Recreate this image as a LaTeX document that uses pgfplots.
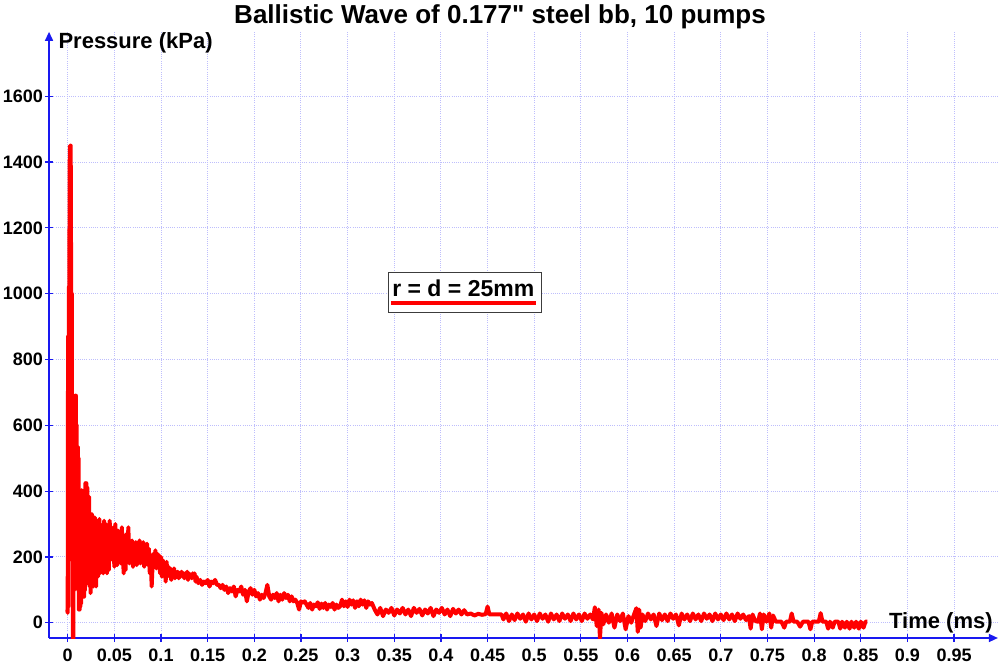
\documentclass[border=0pt]{standalone}
\usepackage{fontspec}
\setmainfont{Liberation Sans}
\newfontfamily\plainfont{Liberation Sans}
\usepackage{pgfplots}
\pgfplotsset{compat=1.18}
\usetikzlibrary{arrows.meta}
\definecolor{gridc}{RGB}{190,190,252}
\definecolor{axblue}{RGB}{25,25,240}
\definecolor{boxc}{RGB}{60,60,60}
\begin{document}
\begin{tikzpicture}
\useasboundingbox (0,0) rectangle (1000pt,667pt);
\node[anchor=base, font=\fontsize{26}{30}\plainfont\bfseries, inner sep=0pt] at (500pt,643pt) {Ballistic Wave of 0.177" steel bb, 10 pumps};
\begin{axis}[
  at={(67.7pt,44.3pt)}, anchor=origin,
  x=933pt, y=0.329pt,
  xmin=-0.02, xmax=0.997, ymin=-46.5, ymax=1796,
  axis lines=left,
  axis line style={axblue, line width=1.4pt, -{Triangle[length=9pt,width=8pt]}},
  tick align=center, major tick length=8pt,
  tick style={axblue, line width=1.2pt},
  xtick={0,0.05,0.1,0.15,0.2,0.25,0.3,0.35,0.4,0.45,0.5,0.55,0.6,0.65,0.7,0.75,0.8,0.85,0.9,0.95},
  ytick={0,200,400,600,800,1000,1200,1400,1600},
  scaled x ticks=false, scaled y ticks=false,
  /pgf/number format/assume math mode=true,
  xticklabel style={/pgf/number format/fixed, /pgf/number format/precision=2, font=\fontsize{18}{20}\selectfont\bfseries, inner sep=0pt, anchor=base, yshift=-19pt},
  yticklabel style={/pgf/number format/set thousands separator={}, font=\fontsize{18}{20}\selectfont\bfseries, inner sep=0pt, anchor=east, xshift=-2pt},
  grid=major,
  major grid style={gridc, dash pattern=on 1pt off 1.2pt, line width=1pt},
  xlabel={Time (ms)},
  x label style={at={(axis description cs:0.9947,0.0165)}, anchor=base east, inner sep=0pt, font=\fontsize{22}{26}\selectfont\bfseries},
  ylabel={Pressure (kPa)},
  y label style={at={(axis description cs:0.0098,0.973)}, rotate=-90, anchor=base west, inner sep=0pt, font=\fontsize{22}{26}\selectfont\bfseries},
]
\addplot[red, line width=4pt, line join=round] coordinates {
(-0.0005,40) (0.0000,30) (0.0004,870) (0.0008,50) (0.0012,1020) (0.0016,400) (0.0020,1370) (0.0024,1450) (0.0028,1450) (0.0032,1450)
(0.0036,1100) (0.0040,700) (0.0044,1000) (0.0048,200) (0.0052,500) (0.0056,-50) (0.0060,-50) (0.0064,300) (0.0068,100) (0.0072,640)
(0.0076,150) (0.0080,690) (0.0084,690) (0.0088,690) (0.0092,250) (0.0096,600) (0.0100,150) (0.0104,530) (0.0108,535) (0.0112,100)
(0.0116,500) (0.0120,40) (0.0124,350) (0.0128,40) (0.0132,300) (0.0136,50) (0.0140,400) (0.0145,60) (0.0150,403) (0.0155,200)
(0.0160,380) (0.0165,79) (0.0170,400) (0.0175,79) (0.0180,350) (0.0185,100) (0.0190,424) (0.0195,150) (0.0200,424) (0.0205,120)
(0.0210,410) (0.0215,130) (0.0220,383) (0.0225,150) (0.0230,383) (0.0235,110) (0.0240,330) (0.0245,90) (0.0250,318) (0.0255,110)
(0.0260,330) (0.0265,140) (0.0270,320) (0.0275,110) (0.0280,300) (0.0285,150) (0.0290,320) (0.0295,120) (0.0300,310) (0.0305,110)
(0.0310,290) (0.0315,160) (0.0320,310) (0.0325,140) (0.0330,300) (0.0335,180) (0.0340,315) (0.0345,150) (0.0350,300)
(0.036,160) (0.037,290) (0.038,150) (0.039,310) (0.040,200) (0.041,300) (0.042,150) (0.043,250) (0.044,160) (0.045,310)
(0.046,210) (0.047,290) (0.048,190) (0.049,260) (0.050,170) (0.051,300) (0.052,230) (0.053,175) (0.054,280) (0.055,200)
(0.056,260) (0.057,180) (0.058,290) (0.059,220) (0.060,150) (0.061,250) (0.062,160) (0.063,270) (0.064,200) (0.065,290)
(0.066,180) (0.067,240) (0.068,190) (0.069,250) (0.070,170) (0.071,230) (0.072,200) (0.073,245) (0.074,175) (0.075,230)
(0.076,210) (0.077,250) (0.078,180) (0.079,235) (0.080,190) (0.081,245) (0.082,170) (0.083,220) (0.084,200) (0.085,240)
(0.086,175) (0.087,225) (0.088,150) (0.089,200) (0.090,110) (0.091,180) (0.092,210) (0.093,170) (0.094,220) (0.095,165)
(0.096,210) (0.097,180) (0.098,205) (0.099,150) (0.100,200) (0.101,140) (0.102,190) (0.103,150) (0.104,180) (0.105,125)
(0.106,185) (0.107,140) (0.108,170) (0.109,145) (0.110,165) (0.111,130) (0.112,160) (0.113,140) (0.114,165) (0.115,135)
(0.116,155) (0.117,140) (0.118,155) (0.119,135) (0.120,150) (0.121,140) (0.122,155) (0.123,145) (0.124,150) (0.125,135)
(0.126,150) (0.127,140) (0.128,155) (0.129,130) (0.130,150) (0.131,140) (0.132,145) (0.133,135) (0.134,150) (0.135,140)
(0.136,150) (0.137,125) (0.138,140) (0.140,120) (0.142,130) (0.144,115) (0.146,125) (0.148,120) (0.150,130) (0.152,110)
(0.154,125) (0.156,120) (0.158,130) (0.160,115) (0.162,115) (0.164,105) (0.166,115) (0.168,100) (0.170,110) (0.172,90)
(0.174,105) (0.176,95) (0.178,110) (0.180,80) (0.182,100) (0.184,95) (0.186,110) (0.188,85) (0.190,100) (0.192,65)
(0.194,95) (0.196,105) (0.198,85) (0.200,100) (0.202,80) (0.204,90) (0.206,70) (0.208,85) (0.210,75) (0.212,90)
(0.214,115) (0.216,80) (0.218,70) (0.220,85) (0.222,75) (0.224,90) (0.226,65) (0.228,85) (0.230,70) (0.232,90)
(0.234,75) (0.236,85) (0.238,65) (0.240,80) (0.242,65) (0.244,70) (0.246,60) (0.248,40) (0.250,65) (0.252,60)
(0.254,65) (0.256,55) (0.258,45) (0.260,60) (0.262,40) (0.264,55) (0.266,50) (0.268,62) (0.270,42) (0.272,58)
(0.274,45) (0.276,60) (0.278,40) (0.280,55) (0.282,48) (0.284,60) (0.286,40) (0.288,55) (0.290,45) (0.292,50)
(0.294,70) (0.296,50) (0.298,65) (0.300,48) (0.302,70) (0.304,55) (0.306,68) (0.308,45) (0.310,65) (0.312,50)
(0.314,70) (0.316,55) (0.318,68) (0.320,45) (0.322,65) (0.324,55) (0.326,60)
(0.329,40) (0.332,25) (0.335,45) (0.338,20) (0.341,40) (0.344,30) (0.347,45) (0.350,22) (0.353,40) (0.356,28)
(0.359,45) (0.362,25) (0.365,40) (0.368,20) (0.371,45) (0.374,30) (0.377,42) (0.380,22) (0.383,40) (0.386,28)
(0.389,45) (0.392,20) (0.395,40) (0.398,30) (0.401,45) (0.404,25) (0.407,40) (0.410,20) (0.413,42) (0.416,28)
(0.419,40) (0.422,25) (0.425,38) (0.428,25) (0.432,28) (0.436,22) (0.440,27) (0.444,24) (0.448,26) (0.450,49)
(0.452,25) (0.458,25) (0.465,25)
(0.467,10) (0.470,28) (0.473,5) (0.476,25) (0.479,8) (0.482,28) (0.485,12) (0.488,25) (0.491,3) (0.494,28)
(0.497,10) (0.500,25) (0.503,5) (0.506,28) (0.509,12) (0.512,25) (0.515,3) (0.518,28) (0.521,10) (0.524,25)
(0.527,5) (0.530,28) (0.533,12) (0.536,25) (0.539,5) (0.542,28) (0.545,10) (0.548,25) (0.551,5) (0.554,28)
(0.557,12) (0.560,25) (0.563,10) (0.565,47) (0.567,-10) (0.569,40) (0.5705,-47) (0.572,30) (0.574,-5)
(0.577,25) (0.580,0) (0.583,28) (0.586,-15) (0.589,25) (0.592,5) (0.595,28) (0.598,-20) (0.601,20) (0.604,0)
(0.607,25) (0.6095,44) (0.611,-28) (0.6125,40) (0.614,-15) (0.616,25)
(0.619,5) (0.622,28) (0.625,10) (0.628,25) (0.631,-10) (0.634,28) (0.637,8) (0.640,25) (0.643,5) (0.646,28)
(0.649,12) (0.652,25) (0.655,-8) (0.658,28) (0.661,10) (0.664,25) (0.667,5) (0.670,28) (0.673,10) (0.676,25)
(0.679,5) (0.682,28) (0.685,12) (0.688,25) (0.691,5) (0.694,28) (0.697,10) (0.700,25) (0.703,8) (0.706,28)
(0.709,10) (0.712,25) (0.715,5) (0.718,28) (0.721,12) (0.724,25) (0.727,8)
(0.730,20) (0.732,-18) (0.734,25) (0.737,5) (0.740,3) (0.742,28) (0.744,-20) (0.746,25) (0.749,3) (0.752,28)
(0.754,-15) (0.756,22) (0.759,3)
(0.765,3) (0.768,-15) (0.770,3) (0.774,3) (0.776,28) (0.778,3) (0.782,3) (0.785,-12) (0.788,3) (0.794,3)
(0.796,-20) (0.798,3) (0.805,3) (0.807,29) (0.809,3) (0.813,3) (0.815,-18) (0.817,3) (0.820,-15) (0.822,3)
(0.826,3) (0.828,-18) (0.830,3) (0.833,-15) (0.835,3) (0.838,-18) (0.840,3) (0.843,-15) (0.845,3) (0.848,-18)
(0.850,3) (0.853,-15) (0.855,3) (0.857,3)
};
\node[draw=boxc, line width=1pt, fill=white, minimum width=153pt, minimum height=40pt, inner sep=0pt] at (axis cs:0.4253,1005) {};
\node[anchor=base, inner sep=0pt, font=\fontsize{23}{27}\selectfont\bfseries] at (axis cs:0.4240,991) {r = d = 25mm};
\draw[red, line width=4pt] (axis cs:0.3465,972) -- (axis cs:0.5019,972);
\end{axis}
\end{tikzpicture}
\end{document}
